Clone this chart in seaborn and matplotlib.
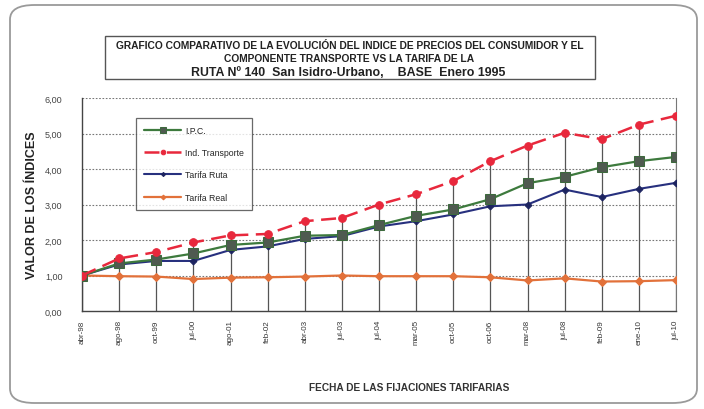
import matplotlib
matplotlib.use("Agg")
import matplotlib.pyplot as plt
import numpy as np
import pandas as pd
import seaborn as sns
from matplotlib.patches import FancyBboxPatch, Rectangle
from matplotlib.ticker import FuncFormatter

fechas = ["abr-98", "ago-98", "oct-99", "jul-00", "ago-01", "feb-02", "abr-03", "jul-03",
          "jul-04", "mar-05", "oct-05", "oct-06", "mar-08", "jul-08", "feb-09", "ene-10", "jul-10"]
ipc = [1.00, 1.34, 1.45, 1.62, 1.86, 1.93, 2.12, 2.14, 2.42, 2.68, 2.86, 3.15, 3.60, 3.78, 4.05, 4.22, 4.34]
ind_transporte = [1.00, 1.48, 1.66, 1.93, 2.13, 2.17, 2.53, 2.62, 3.00, 3.29, 3.66, 4.22, 4.66, 5.02, 4.84, 5.25, 5.50]
tarifa_ruta = [1.00, 1.31, 1.41, 1.41, 1.72, 1.82, 2.03, 2.11, 2.38, 2.53, 2.72, 2.95, 3.00, 3.42, 3.21, 3.44, 3.61]
tarifa_real = [1.00, 0.98, 0.97, 0.90, 0.94, 0.95, 0.97, 1.00, 0.98, 0.98, 0.98, 0.95, 0.86, 0.92, 0.83, 0.84, 0.87]

df = pd.DataFrame({
    "x": np.arange(len(fechas)),
    "I.P.C.": ipc,
    "Ind. Transporte": ind_transporte,
    "Tarifa Ruta": tarifa_ruta,
    "Tarifa Real": tarifa_real,
})

sns.set_theme(style="white")
plt.rcParams["font.family"] = ["Liberation Sans", "DejaVu Sans"]

fig = plt.figure(figsize=(7.04, 4.10), dpi=100)
ax = fig.add_axes([82 / 704, 1 - 312 / 410, (676 - 82) / 704, (312 - 99) / 410])

# outer rounded frame
frame = FancyBboxPatch((10 / 704, 6 / 410), 687 / 704, 398 / 410,
                       boxstyle="round,pad=0,rounding_size=0.035",
                       transform=fig.transFigure, fill=False, edgecolor="#9a9a9a", linewidth=1.3)
fig.patches.append(frame)

# drop lines from highest series to axis
tops = df[["I.P.C.", "Ind. Transporte", "Tarifa Ruta", "Tarifa Real"]].max(axis=1)
ax.vlines(df["x"], 0, tops, color="#555555", linewidth=0.9, zorder=1)

for y in range(1, 7):
    ax.axhline(y, color="#777777", linewidth=0.8, linestyle=(0, (1.5, 1.5)), zorder=0)

styles = {
    "I.P.C.": dict(color="#3d7a3d", marker="s", markersize=6.5, markerfacecolor="#4f5a50",
                   markeredgecolor="#3d6a3d", linestyle="-", linewidth=1.6),
    "Ind. Transporte": dict(color="#e8283c", marker="o", markersize=5.5, markerfacecolor="#e8283c",
                            markeredgecolor="#e8283c", linestyle=(0, (6, 3)), linewidth=1.8),
    "Tarifa Ruta": dict(color="#27307e", marker="D", markersize=3.5, markerfacecolor="#1d2460",
                        markeredgecolor="#1d2460", linestyle="-", linewidth=1.5),
    "Tarifa Real": dict(color="#e2713a", marker="D", markersize=4, markerfacecolor="#e2713a",
                        markeredgecolor="#e2713a", linestyle="-", linewidth=1.6),
}
order = ["Tarifa Real", "Tarifa Ruta", "I.P.C.", "Ind. Transporte"]
for name in order:
    st = styles[name]
    sns.lineplot(data=df, x="x", y=name, ax=ax, label=name, zorder=3, **st)

ax.set_xlim(0, len(fechas) - 1)
ax.set_ylim(0, 6)
ax.set_yticks(range(0, 7))
ax.yaxis.set_major_formatter(FuncFormatter(lambda v, p: f"{v:.2f}".replace(".", ",")))
ax.set_xticks(df["x"])
ax.set_xticklabels(fechas, rotation=90, fontsize=5.8)
ax.tick_params(axis="y", labelsize=6.5, length=3, direction="in", pad=14, colors="#444444")
ax.tick_params(axis="x", length=0, pad=6, colors="#333333")
ax.set_xlabel("FECHA DE LAS FIJACIONES TARIFARIAS", fontsize=7.3, fontweight="bold",
              color="#333333")
ax.set_ylabel("VALOR DE LOS ÍNDICES", fontsize=9, fontweight="bold", color="#222222")
ax.xaxis.set_label_coords((409 - 82) / 594, -(383 - 312) / 213)
ax.yaxis.set_label_coords(-(82 - 38) / 594, 0.5)
ax.spines["top"].set_visible(False)
ax.spines["right"].set_color("#777777")
ax.spines["right"].set_linewidth(0.8)
for side in ["left", "bottom"]:
    ax.spines[side].set_color("#444444")
    ax.spines[side].set_linewidth(1.0)

handles, labels = ax.get_legend_handles_labels()
want = ["I.P.C.", "Ind. Transporte", "Tarifa Ruta", "Tarifa Real"]
hmap = dict(zip(labels, handles))
leg = ax.legend([hmap[w] for w in want], want, loc="upper left",
                bbox_to_anchor=((132 - 82) / 594, 1 - (115 - 99) / 213),
                fontsize=6.3, frameon=True, fancybox=False, edgecolor="#444444",
                handlelength=4.2, handletextpad=0.5, labelspacing=1.5, borderpad=0.9,
                markerscale=0.6)
leg.get_frame().set_linewidth(0.9)

# title box
fig.patches.append(Rectangle((105 / 704, 1 - 80 / 410), 490 / 704, 43 / 410,
                             transform=fig.transFigure, fill=False, edgecolor="#555555",
                             linewidth=1.0))
fig.text(350 / 704, 1 - 46 / 410,
         "GRAFICO COMPARATIVO DE LA EVOLUCIÓN DEL INDICE DE PRECIOS DEL CONSUMIDOR Y EL",
         ha="center", va="center", fontsize=7.4, fontweight="bold", color="#222222")
fig.text(349 / 704, 1 - 59 / 410, "COMPONENTE TRANSPORTE VS LA TARIFA DE LA",
         ha="center", va="center", fontsize=7.4, fontweight="bold", color="#222222")
fig.text(348 / 704, 1 - 73 / 410, "RUTA Nº 140  San Isidro-Urbano,    BASE  Enero 1995",
         ha="center", va="center", fontsize=8.9, fontweight="bold", color="#222222")

fig.savefig("out.png", dpi=100)
